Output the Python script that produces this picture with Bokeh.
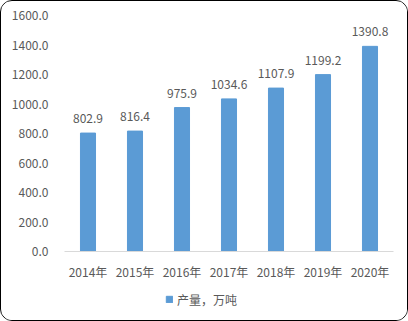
from bokeh.plotting import figure
from bokeh.layouts import column
from bokeh.models import ColumnDataSource, Legend, LegendItem, NumeralTickFormatter, FixedTicker
from bokeh.core.properties import value
from bokeh.embed import file_html
from bokeh.resources import INLINE

years = ["2014年", "2015年", "2016年", "2017年", "2018年", "2019年", "2020年"]
output = [802.9, 816.4, 975.9, 1034.6, 1107.9, 1199.2, 1390.8]
labels = [f"{v:.1f}" for v in output]
y_ticks = [0, 200, 400, 600, 800, 1000, 1200, 1400, 1600]
series_name = "产量，万吨"

FONT = "Noto Sans CJK SC"
TXT = "#595959"
BAR = "#5B9BD5"

src = ColumnDataSource(dict(x=years, y=output, lab=labels))

p = figure(x_range=years, y_range=(0, 1600), width=406, height=282,
           output_backend="svg", toolbar_location=None,
           min_border_left=63, min_border_right=14, min_border_top=14, min_border_bottom=32)
p.x_range.range_padding = 0
p.outline_line_color = None
p.xgrid.grid_line_color = None
p.ygrid.grid_line_color = None

r = p.vbar(x="x", top="y", width=0.32, color=BAR, source=src)
p.text(x="x", y="y", text="lab", source=src, text_align="center", text_baseline="bottom",
       y_offset=-10, text_font=value(FONT), text_font_size="12px", text_color=TXT)

p.yaxis.ticker = FixedTicker(ticks=y_ticks)
p.yaxis.formatter = NumeralTickFormatter(format="0.0")
p.yaxis.axis_line_color = None
p.yaxis.major_tick_line_color = None
p.yaxis.minor_tick_line_color = None
p.yaxis.major_tick_out = 0
p.yaxis.major_label_standoff = 16
p.yaxis.major_label_text_font = FONT
p.yaxis.major_label_text_font_size = "12px"
p.yaxis.major_label_text_color = TXT

p.xaxis.axis_line_color = "#D9D9D9"
p.xaxis.axis_line_width = 1
p.xaxis.major_tick_line_color = None
p.xaxis.minor_tick_line_color = None
p.xaxis.major_tick_out = 0
p.xaxis.major_label_standoff = 11
p.xaxis.major_label_text_font = FONT
p.xaxis.major_label_text_font_size = "12px"
p.xaxis.major_label_text_color = TXT

# legend strip: same series drawn out of view, only its legend shows
p2 = figure(x_range=years, y_range=(5000, 6000), width=406, height=37,
            output_backend="svg", toolbar_location=None,
            x_axis_location=None, y_axis_location=None,
            min_border_left=0, min_border_right=0, min_border_top=0, min_border_bottom=0)
p2.grid.visible = False
p2.outline_line_color = None
r2 = p2.vbar(x="x", top="y", width=0.32, color=BAR, source=src)

legend = Legend(items=[LegendItem(label=series_name, renderers=[r2])],
                location=(101, 11), orientation="horizontal",
                border_line_color=None, background_fill_alpha=0,
                label_text_font=FONT, label_text_font_size="12px", label_text_color=TXT,
                glyph_width=8, glyph_height=8, label_standoff=4, label_height=20,
                padding=0, margin=0)
p2.add_layout(legend, "center")

layout = column(p, p2, spacing=0,
                styles={"border": "1px solid black", "border-radius": "12px", "overflow": "hidden"})

open("out.html", "w").write(file_html(layout, INLINE))
